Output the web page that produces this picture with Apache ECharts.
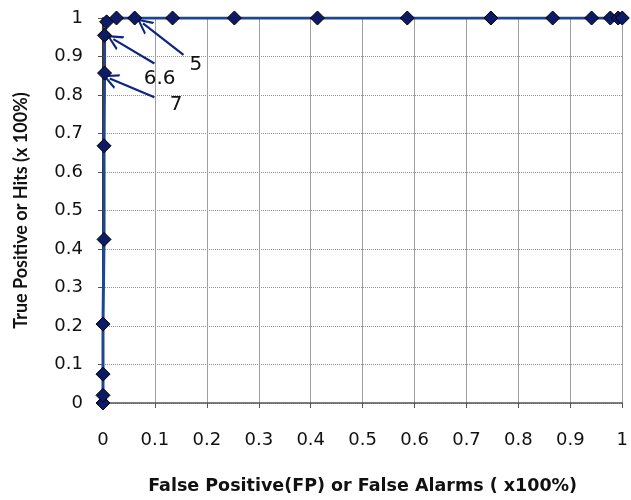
<!DOCTYPE html>
<html>
<head>
<meta charset="utf-8">
<script src="https://cdn.jsdelivr.net/npm/echarts@6/dist/echarts.min.js"></script>
<style>
  html, body { margin: 0; padding: 0; background: #fff; }
  #chart { width: 631px; height: 500px; }
</style>
</head>
<body>
<div id="chart"></div>
<script>
// ROC points: false positive rate / true positive rate
var fpRate = [0, 0, 0, 0, 0.002, 0.002, 0.003, 0.003, 0.007, 0.026, 0.061, 0.134, 0.253, 0.413, 0.586, 0.747, 0.866, 0.941, 0.977, 0.992, 1];
var tpRate = [0, 0.02, 0.075, 0.205, 0.425, 0.668, 0.857, 0.955, 0.99, 1, 1, 1, 1, 1, 1, 1, 1, 1, 1, 1, 1];
var xTicks = ['0', '0.1', '0.2', '0.3', '0.4', '0.5', '0.6', '0.7', '0.8', '0.9', '1'];
var yTicks = ['0', '0.1', '0.2', '0.3', '0.4', '0.5', '0.6', '0.7', '0.8', '0.9', '1'];

// threshold annotations (label, arrow tail, arrow tip, label spot)
var noteLabels = ['5', '6.6', '7'];
var noteTail = [[0.155, 0.904], [0.099, 0.882], [0.099, 0.794]];
var noteTip = [[0.077, 0.986], [0.020, 0.945], [0.013, 0.843]];
var noteText = [[0.179, 0.878], [0.109, 0.843], [0.141, 0.774]];

var chart = echarts.init(document.getElementById('chart'), null, { renderer: 'canvas' });
var wide = '"DejaVu Sans", sans-serif';
var narrow = 'Lato, "Open Sans", sans-serif';

var points = fpRate.map(function (x, i) { return [x, tpRate[i]]; });

var arrowLines = noteLabels.map(function (n, i) {
  return [{ coord: noteTail[i] }, { coord: noteTip[i] }];
});
var notePoints = noteLabels.map(function (n, i) {
  return { name: n, coord: noteText[i], value: n };
});

var option = {
  animation: false,
  grid: { left: 103, right: 4, top: 18, bottom: 97 },
  xAxis: {
    type: 'value', min: 0, max: 1, interval: 0.1,
    name: 'False Positive(FP) or False Alarms ( x100%)',
    nameLocation: 'middle', nameGap: 74,
    nameTextStyle: { fontFamily: wide, fontWeight: 'bold', fontSize: 17.5, color: '#111' },
    axisLine: { lineStyle: { color: '#555', width: 1.5 } },
    axisTick: { show: true, length: 5, lineStyle: { color: '#555' } },
    axisLabel: {
      margin: 28, fontFamily: wide, fontSize: 18, color: '#111',
      formatter: function (v) { return xTicks[Math.round(v * 10)]; }
    },
    splitLine: { show: true, lineStyle: { color: '#a0a0a0', width: 1 } }
  },
  yAxis: {
    type: 'value', min: 0, max: 1, interval: 0.1,
    name: 'True Positive or Hits (x 100%)',
    nameLocation: 'middle', nameGap: 73, nameRotate: 90,
    nameTextStyle: { fontFamily: narrow, fontWeight: 'bold', fontSize: 18, color: '#111' },
    axisLine: { show: true, lineStyle: { color: '#333', width: 2 } },
    axisTick: { show: true, length: 5, lineStyle: { color: '#555' } },
    axisLabel: {
      margin: 20, fontFamily: wide, fontSize: 18, color: '#111',
      formatter: function (v) { return yTicks[Math.round(v * 10)]; }
    },
    splitLine: { show: true, lineStyle: { color: '#909090', width: 1, type: 'dotted' } }
  },
  series: [{
    type: 'line',
    data: points,
    symbol: 'diamond',
    symbolSize: 14,
    showAllSymbol: true,
    lineStyle: { color: '#1f4690', width: 3 },
    itemStyle: { color: '#0d1a66', borderColor: '#000', borderWidth: 1 },
    z: 5,
    markLine: {
      silent: true,
      symbol: ['none', 'path://M0,0 L10,14 L7,14 L0,4 L-7,14 L-10,14 Z'],
      symbolSize: [16, 16],
      lineStyle: { color: '#0d2480', width: 2.2, type: 'solid' },
      label: { show: false },
      data: arrowLines
    },
    markPoint: {
      silent: true,
      symbol: 'circle',
      symbolSize: 1,
      itemStyle: { color: 'rgba(0,0,0,0)' },
      label: {
        show: true, position: 'inside',
        fontFamily: wide, fontSize: 20, color: '#111',
        formatter: function (p) { return p.name; }
      },
      data: notePoints
    }
  }]
};
chart.setOption(option);
</script>
</body>
</html>
